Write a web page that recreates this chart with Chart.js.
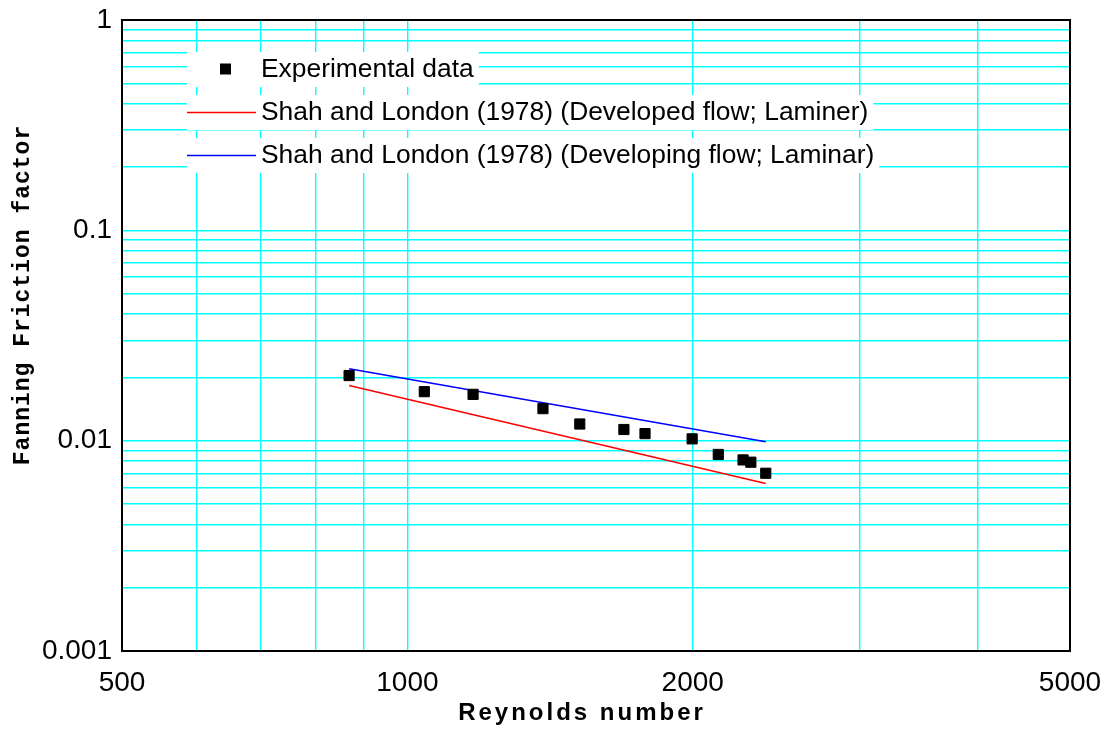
<!DOCTYPE html>
<html>
<head>
<meta charset="utf-8">
<script src="https://cdn.jsdelivr.net/npm/chart.js@4.4.1/dist/chart.umd.min.js"></script>
<style>
  html, body { margin: 0; padding: 0; background: #fff; }
  #friction-chart { display: block; }
</style>
</head>
<body>
<canvas id="friction-chart" width="1109" height="738"></canvas>
<script>
const reynoldsExp = [868, 1042, 1173, 1390, 1520, 1692, 1781, 1997, 2128, 2260, 2303, 2388];
const frictionExp = [0.0204, 0.0171, 0.0166, 0.0142, 0.0120, 0.0113, 0.0108, 0.0102, 0.0086, 0.0081, 0.0079, 0.0070];

// Shah and London (1978) correlations, end points of the drawn lines
const reynoldsShah = [868, 2388];
const frictionDeveloped = [0.0183, 0.00625];
const frictionDeveloping = [0.0220, 0.00987];

const seriesLabels = [
  "Experimental data",
  "Shah and London (1978) (Developed flow; Laminer)",
  "Shah and London (1978) (Developing flow; Laminar)",
];

// Axis ticks (grid lines) and the ones that carry a label
const xGridValues = [500, 600, 700, 800, 900, 1000, 2000, 3000, 4000, 5000];
const xTickLabels = [500, 1000, 2000, 5000];
const yGridValues = [
  0.001, 0.002, 0.003, 0.004, 0.005, 0.006, 0.007, 0.008, 0.009,
  0.01, 0.02, 0.03, 0.04, 0.05, 0.06, 0.07, 0.08, 0.09,
  0.1, 0.2, 0.3, 0.4, 0.5, 0.6, 0.7, 0.8, 0.9, 1,
];
const yTickLabels = [0.001, 0.01, 0.1, 1];

const sansFont = "'Liberation Sans', Arial, sans-serif";

function toPoints(xs, ys) {
  return xs.map((x, i) => ({ x: x, y: ys[i] }));
}

// Black frame round the plot area
const plotFrame = {
  id: "plotFrame",
  afterDraw(chart) {
    const { ctx, chartArea: a } = chart;
    ctx.save();
    ctx.strokeStyle = "#000";
    ctx.lineWidth = 2;
    ctx.strokeRect(a.left, a.top, a.right - a.left, a.bottom - a.top);
    ctx.restore();
  },
};

// Axis titles (drawn by hand for the letter spacing)
const axisTitles = {
  id: "axisTitles",
  afterDraw(chart) {
    const ctx = chart.ctx;
    ctx.save();
    ctx.fillStyle = "#000";
    ctx.textAlign = "center";
    ctx.textBaseline = "alphabetic";
    ctx.font = "bold 24px " + sansFont;
    ctx.letterSpacing = "3px";
    ctx.fillText("Reynolds number", 582, 720);

    ctx.translate(29, 295);
    ctx.rotate(-Math.PI / 2);
    ctx.font = "bold 23px 'Liberation Mono', 'Courier New', monospace";
    ctx.letterSpacing = "1px";
    ctx.fillText("Fanning Friction factor", 0, 0);
    ctx.restore();
  },
};

// Legend rows inside the plot, each on its own white box
const legendRows = {
  id: "legendRows",
  afterDraw(chart) {
    const ctx = chart.ctx;
    ctx.save();
    ctx.font = "26.4px " + sansFont;
    ctx.textBaseline = "middle";
    chart.data.datasets.forEach((ds, i) => {
      const y = 69 + i * 43;
      const textX = 261;
      const w = ctx.measureText(ds.label).width;
      ctx.fillStyle = "#fff";
      ctx.fillRect(187, y - 17, textX + w + 5 - 187, 35);
      if (ds.showLine) {
        ctx.strokeStyle = ds.borderColor;
        ctx.lineWidth = ds.borderWidth;
        ctx.beginPath();
        ctx.moveTo(187, y + 0.5);
        ctx.lineTo(256, y + 0.5);
        ctx.stroke();
      } else {
        ctx.fillStyle = ds.backgroundColor;
        ctx.fillRect(220, y - 5.5, 11, 11);
      }
      ctx.fillStyle = "#000";
      ctx.fillText(ds.label, textX, y + 1);
    });
    ctx.restore();
  },
};

const ctx = document.getElementById("friction-chart").getContext("2d");

new Chart(ctx, {
  type: "scatter",
  data: {
    datasets: [
      {
        label: seriesLabels[0],
        data: toPoints(reynoldsExp, frictionExp),
        showLine: false,
        pointStyle: "rect",
        pointRadius: 7.2,
        backgroundColor: "#000",
        borderColor: "#000",
        borderWidth: 1,
      },
      {
        label: seriesLabels[1],
        data: toPoints(reynoldsShah, frictionDeveloped),
        showLine: true,
        pointRadius: 0,
        borderColor: "#FF0000",
        backgroundColor: "#FF0000",
        borderWidth: 1.5,
      },
      {
        label: seriesLabels[2],
        data: toPoints(reynoldsShah, frictionDeveloping),
        showLine: true,
        pointRadius: 0,
        borderColor: "#0000FF",
        backgroundColor: "#0000FF",
        borderWidth: 1.5,
      },
    ],
  },
  options: {
    responsive: false,
    animation: false,
    layout: { padding: { left: 0, right: 39, top: 20, bottom: 0 } },
    plugins: {
      legend: { display: false },
      tooltip: { enabled: false },
    },
    scales: {
      x: {
        type: "logarithmic",
        min: 500,
        max: 5000,
        afterFit: (scale) => {
          scale.height = 87;
          scale.paddingLeft = 0;
          scale.paddingRight = 0;
        },
        afterBuildTicks: (scale) => {
          scale.ticks = xGridValues.map((v) => ({ value: v }));
        },
        grid: { color: "#00FFFF", lineWidth: 1.4, drawTicks: false },
        border: { display: false },
        ticks: {
          autoSkip: false,
          maxRotation: 0,
          padding: 15,
          color: "#000",
          font: { family: sansFont, size: 28 },
          callback: (v) => (xTickLabels.includes(v) ? String(v) : ""),
        },
      },
      y: {
        type: "logarithmic",
        min: 0.001,
        max: 1,
        afterFit: (scale) => {
          scale.width = 122;
          scale.paddingTop = 0;
          scale.paddingBottom = 0;
        },
        afterBuildTicks: (scale) => {
          scale.ticks = yGridValues.map((v) => ({ value: v }));
        },
        grid: { color: "#00FFFF", lineWidth: 1.4, drawTicks: false },
        border: { display: false },
        ticks: {
          autoSkip: false,
          padding: 10,
          color: "#000",
          font: { family: sansFont, size: 28 },
          callback: (v) => (yTickLabels.includes(v) ? String(v) : ""),
        },
      },
    },
  },
  plugins: [plotFrame, axisTitles, legendRows],
});
</script>
</body>
</html>
